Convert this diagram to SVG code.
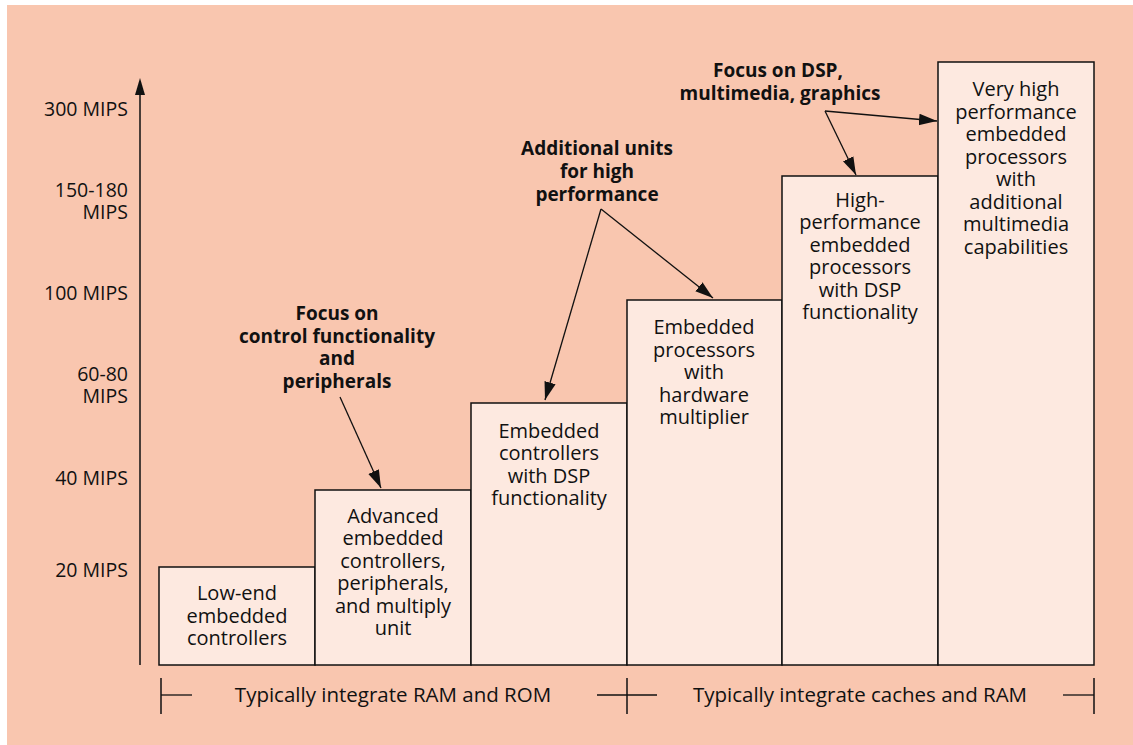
<svg xmlns="http://www.w3.org/2000/svg" width="1133" height="745" viewBox="0 0 1133 745">
<defs>
<style>
.bg{fill:#F9C6AF}
.bar{fill:#FDE9E0;stroke:#111;stroke-width:1.5}
.t{font-family:"Open Sans","Liberation Sans",sans-serif;font-size:20px;fill:#111;text-anchor:middle}
.y{font-family:"Open Sans","Liberation Sans",sans-serif;font-size:19.5px;fill:#111;text-anchor:end}
.r{font-family:"Open Sans","Liberation Sans",sans-serif;font-size:20.5px;fill:#111;text-anchor:middle}
.b{font-family:"Open Sans","Liberation Sans",sans-serif;font-size:19px;font-weight:700;fill:#111;text-anchor:middle}
.ln{stroke:#111;stroke-width:1.3;fill:none}
.ax{stroke:#4a3d38;stroke-width:2;fill:none}
</style>
<marker id="ah" viewBox="0 0 10 10" refX="10" refY="5" markerWidth="18" markerHeight="18" markerUnits="userSpaceOnUse" orient="auto">
<path d="M0,1.8 L10,5 L0,8.2 Z" fill="#111"/>
</marker>
</defs>
<rect class="bg" x="7" y="5" width="1126" height="740"/>

<g id="axis">
<line class="ax" x1="140" y1="665" x2="140" y2="90"/>
<path d="M135,95 L140,78 L145,95 Z" fill="#111"/>
<text class="y" x="128" y="116">300 MIPS</text>
<text class="y" x="128" y="197">150-180</text>
<text class="y" x="128" y="219">MIPS</text>
<text class="y" x="128" y="300">100 MIPS</text>
<text class="y" x="128" y="381">60-80</text>
<text class="y" x="128" y="403">MIPS</text>
<text class="y" x="128" y="485">40 MIPS</text>
<text class="y" x="128" y="577">20 MIPS</text>
</g>

<g id="bar1">
<rect class="bar" x="159" y="567" width="156" height="98"/>
<text class="t" x="237" y="600">Low-end</text>
<text class="t" x="237" y="623">embedded</text>
<text class="t" x="237" y="645">controllers</text>
</g>
<g id="bar2">
<rect class="bar" x="315" y="490" width="156" height="175"/>
<text class="t" x="393" y="523">Advanced</text>
<text class="t" x="393" y="545">embedded</text>
<text class="t" x="393" y="568">controllers,</text>
<text class="t" x="393" y="590">peripherals,</text>
<text class="t" x="393" y="613">and multiply</text>
<text class="t" x="393" y="635">unit</text>
</g>
<g id="bar3">
<rect class="bar" x="471" y="403" width="156" height="262"/>
<text class="t" x="549" y="438">Embedded</text>
<text class="t" x="549" y="460">controllers</text>
<text class="t" x="549" y="483">with DSP</text>
<text class="t" x="549" y="505">functionality</text>
</g>
<g id="bar4">
<rect class="bar" x="627" y="300" width="155" height="365"/>
<text class="t" x="704" y="334">Embedded</text>
<text class="t" x="704" y="357">processors</text>
<text class="t" x="704" y="379">with</text>
<text class="t" x="704" y="402">hardware</text>
<text class="t" x="704" y="424">multiplier</text>
</g>
<g id="bar5">
<rect class="bar" x="782" y="176" width="156" height="489"/>
<text class="t" x="860" y="207">High-</text>
<text class="t" x="860" y="229">performance</text>
<text class="t" x="860" y="252">embedded</text>
<text class="t" x="860" y="274">processors</text>
<text class="t" x="860" y="297">with DSP</text>
<text class="t" x="860" y="319">functionality</text>
</g>
<g id="bar6">
<rect class="bar" x="938" y="62" width="156" height="603"/>
<text class="t" x="1016" y="96">Very high</text>
<text class="t" x="1016" y="119">performance</text>
<text class="t" x="1016" y="141">embedded</text>
<text class="t" x="1016" y="164">processors</text>
<text class="t" x="1016" y="186">with</text>
<text class="t" x="1016" y="209">additional</text>
<text class="t" x="1016" y="231">multimedia</text>
<text class="t" x="1016" y="254">capabilities</text>
</g>

<g id="label-control">
<text class="b" x="337" y="320">Focus on</text>
<text class="b" x="337" y="343">control functionality</text>
<text class="b" x="337" y="365">and</text>
<text class="b" x="337" y="388">peripherals</text>
</g>
<g id="label-additional">
<text class="b" x="597" y="155">Additional units</text>
<text class="b" x="597" y="178">for high</text>
<text class="b" x="597" y="201">performance</text>
</g>
<g id="label-dsp">
<text class="b" x="778" y="77">Focus on DSP,</text>
<text class="b" x="780" y="100">multimedia, graphics</text>
</g>

<g id="connectors">
<line class="ln" x1="340" y1="397" x2="381" y2="488" marker-end="url(#ah)"/>
<line class="ln" x1="601" y1="209" x2="545" y2="400" marker-end="url(#ah)"/>
<line class="ln" x1="601" y1="209" x2="713" y2="298" marker-end="url(#ah)"/>
<line class="ln" x1="825" y1="111" x2="856" y2="175" marker-end="url(#ah)"/>
<line class="ln" x1="825" y1="111" x2="937" y2="121" marker-end="url(#ah)"/>
</g>

<g id="range-bar">
<line class="ax" x1="161" y1="678" x2="161" y2="714" stroke-width="1.5"/>
<line class="ln" x1="161" y1="695" x2="192" y2="695"/>
<line class="ax" x1="627" y1="678" x2="627" y2="714" stroke-width="1.5"/>
<line class="ln" x1="597" y1="695" x2="657" y2="695"/>
<line class="ax" x1="1094" y1="678" x2="1094" y2="714" stroke-width="1.5"/>
<line class="ln" x1="1063" y1="695" x2="1094" y2="695"/>
<text class="r" x="393" y="702">Typically integrate RAM and ROM</text>
<text class="r" x="860" y="702">Typically integrate caches and RAM</text>
</g>
</svg>
